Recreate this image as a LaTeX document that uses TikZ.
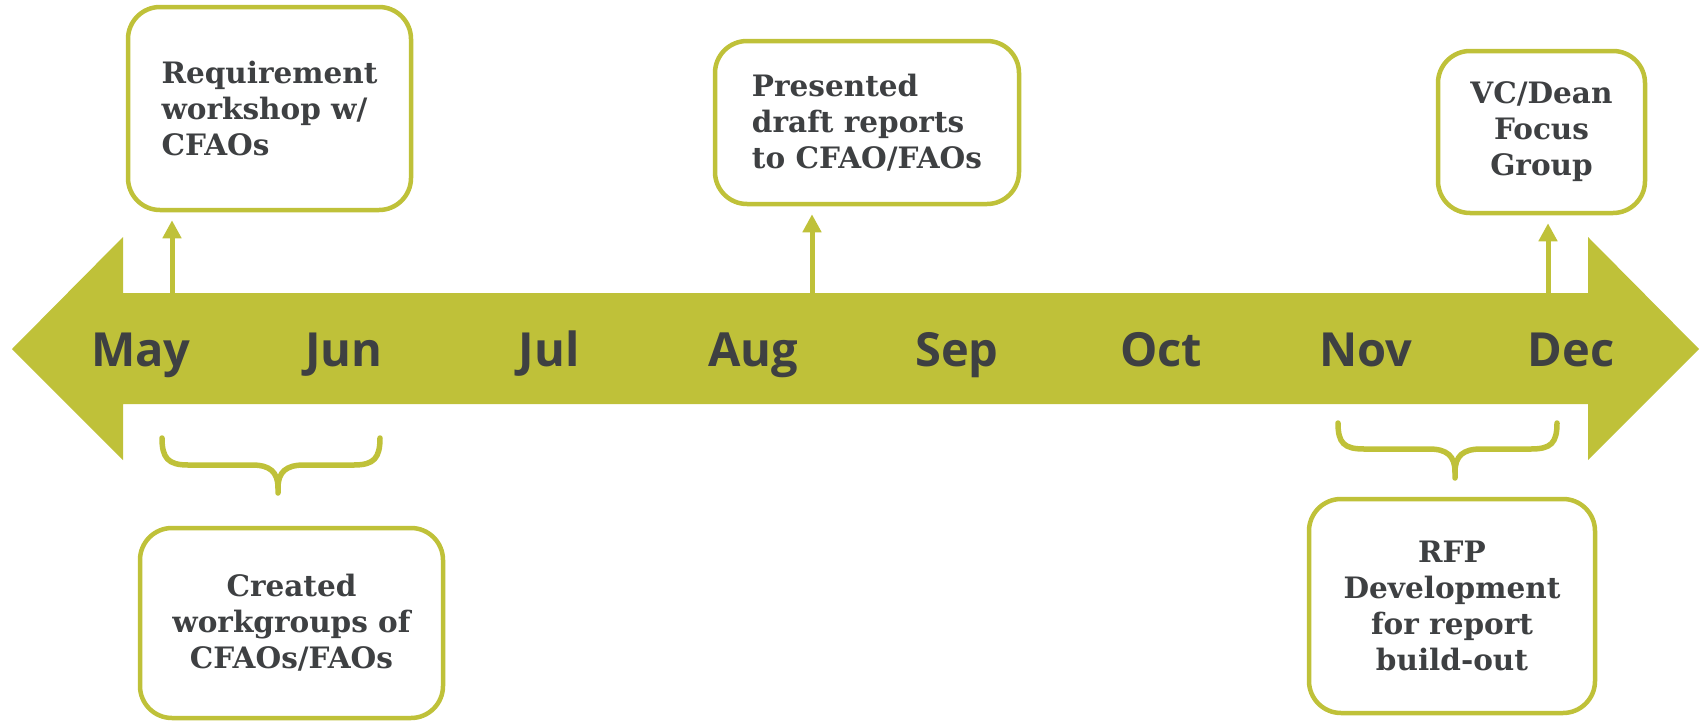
\documentclass[tikz,border=0pt]{standalone}
\usepackage{fontspec}
\usetikzlibrary{arrows.meta}
\newfontfamily\boxfont{DejaVu Serif}
\newfontfamily\monthfont{Open Sans}
\definecolor{olive}{RGB}{191,193,57}
\definecolor{ink}{RGB}{62,64,66}

\begin{document}
\begin{tikzpicture}[x=1pt,y=-1pt,
  event/.style={draw=olive, line width=4.5pt, rounded corners=32pt, fill=white,
    font=\boxfont\bfseries\fontsize{29.5}{36}\selectfont, text=ink, inner sep=0pt},
  month/.style={font=\monthfont\bfseries\fontsize{47}{50}\selectfont, text=ink, anchor=base},
  pointer/.style={draw=olive, line width=5pt, shorten >=8pt,
    -{Triangle[width=18pt,length=18pt]}},
  bracket/.style={draw=olive, line width=5.5pt, line cap=round}]

\useasboundingbox (0,0) rectangle (1706,723);

% timeline: a double-headed bar
\fill[olive] (12,349) -- (123,237) -- (123,293) -- (1588,293) -- (1588,237)
  -- (1699,349) -- (1588,460) -- (1588,404) -- (123,404) -- (123,460) -- cycle;

% months
\node[month] (may) at (141,366) {May};
\node[month] (jun) at (344,366) {Jun};
\node[month] (jul) at (549,366) {Jul};
\node[month] (aug) at (753,366) {Aug};
\node[month] (sep) at (957,366) {Sep};
\node[month] (oct) at (1161,366) {Oct};
\node[month] (nov) at (1366,366) {Nov};
\node[month] (dec) at (1571,366) {Dec};

% milestones above the timeline
\node[event, minimum width=283pt, minimum height=203pt, align=left] (workshop) at (269.5,108.5)
  {Requirement\\workshop w/\\CFAOs};
\node[event, minimum width=304pt, minimum height=163pt, align=left] (draft) at (867,122.5)
  {Presented\\draft reports\\to CFAO/FAOs};
\node[event, minimum width=207pt, minimum height=162pt, align=center] (focus) at (1541.5,132)
  {VC/Dean\\Focus\\Group};

% periods below the timeline
\node[event, minimum width=303pt, minimum height=190pt, align=center] (workgroups) at (291.5,623)
  {Created\\workgroups of\\CFAOs/FAOs};
\node[event, minimum width=286pt, minimum height=214pt, align=center] (rfp) at (1452,606)
  {RFP\\Development\\for report\\build-out};

% pointers from the timeline to the milestones
\coordinate (p1) at (172,293);
\coordinate (p2) at (812,293);
\coordinate (p3) at (1548,293);
\draw[pointer] (p1) -- (p1 |- workshop.south);
\draw[pointer] (p2) -- (p2 |- draft.south);
\draw[pointer] (p3) -- (p3 |- focus.south);

% braces marking the periods
\draw[bracket] (162,438) .. controls (162,458) and (168,465) .. (188,465) -- (252,465)
  .. controls (270,465) and (278,472) .. (278,488) -- (278,493);
\draw[bracket] (380,438) .. controls (380,458) and (374,465) .. (354,465) -- (304,465)
  .. controls (286,465) and (278,472) .. (278,488);
\draw[bracket] (1338,423) .. controls (1338,443) and (1344,449) .. (1364,449) -- (1429,449)
  .. controls (1447,449) and (1455,456) .. (1455,472) -- (1455,478);
\draw[bracket] (1557,423) .. controls (1557,443) and (1551,449) .. (1531,449) -- (1481,449)
  .. controls (1463,449) and (1455,456) .. (1455,472);
\end{tikzpicture}
\end{document}
